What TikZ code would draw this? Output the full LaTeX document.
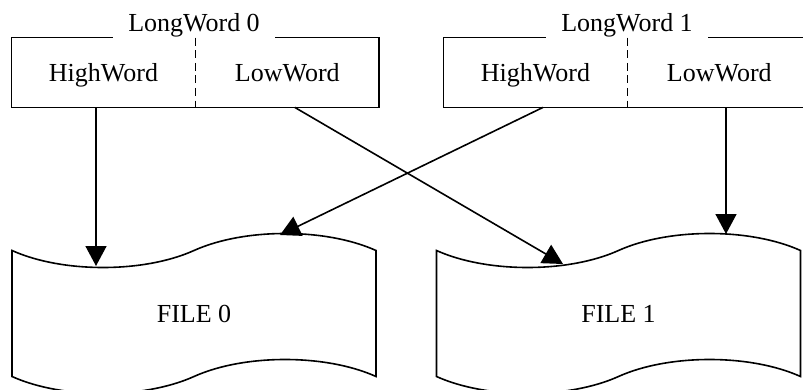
\documentclass[tikz,border=0pt]{standalone}
\usepackage{fontspec}
\setmainfont{Liberation Serif}
\usetikzlibrary{shapes.symbols, arrows.meta, positioning}

\begin{document}
\begin{tikzpicture}[x=0.5pt, y=-0.5pt,
    font=\fontsize{13}{15}\selectfont,
    cell/.style={rectangle, minimum width=91.5pt, minimum height=34.5pt, inner sep=0pt,
      text height=9pt, text depth=0pt},
    title/.style={fill=white, inner xsep=7.5pt, inner ysep=2pt, anchor=base},
    divider/.style={line width=0.8pt, dash pattern=on 4pt off 2.3pt},
    file/.style={tape, draw, fill=white, line width=0.8pt, minimum width=182pt, minimum height=80pt,
      tape bend top=in and out, tape bend bottom=in and out, tape bend height=17pt},
    link/.style={line width=0.8pt, -{Triangle[length=10pt, width=10.5pt]}},
  ]
  \clip (0,0) rectangle (803,390);

  % first long word
  \node[cell] (hw0) at (103.5, 72.5) {HighWord};
  \node[cell, right=0pt of hw0] (lw0) {LowWord};
  \draw[line width=0.8pt] (hw0.north west) rectangle (lw0.south east);
  \node[title] (long0) at (194, 31.5) {LongWord 0};
  \draw[divider] (hw0.north east) -- (hw0.south east);

  % second long word
  \node[cell] (hw1) at (535.5, 72.5) {HighWord};
  \node[cell, right=0pt of hw1] (lw1) {LowWord};
  \draw[line width=0.8pt] (hw1.north west) rectangle (lw1.south east);
  \node[title] (long1) at (627, 31.5) {LongWord 1};
  \draw[divider] (hw1.north east) -- (hw1.south east);

  % the two files
  \node[file] (file0) at (194, 313.5) {FILE 0};
  \node[file] (file1) at (618.5, 313.5) {FILE 1};

  \coordinate (in0a) at (96, 266);
  \coordinate (in0b) at (280, 235);
  \coordinate (in1a) at (563, 264);
  \coordinate (in1b) at (726, 234);

  \draw[link] (hw0.south -| in0a) -- (in0a);
  \draw[link] ([xshift=3.75pt]lw0.south) -- (in1a);
  \draw[link] ([xshift=3.75pt]hw1.south) -- (in0b);
  \draw[link] (lw1.south -| in1b) -- (in1b);
\end{tikzpicture}
\end{document}
